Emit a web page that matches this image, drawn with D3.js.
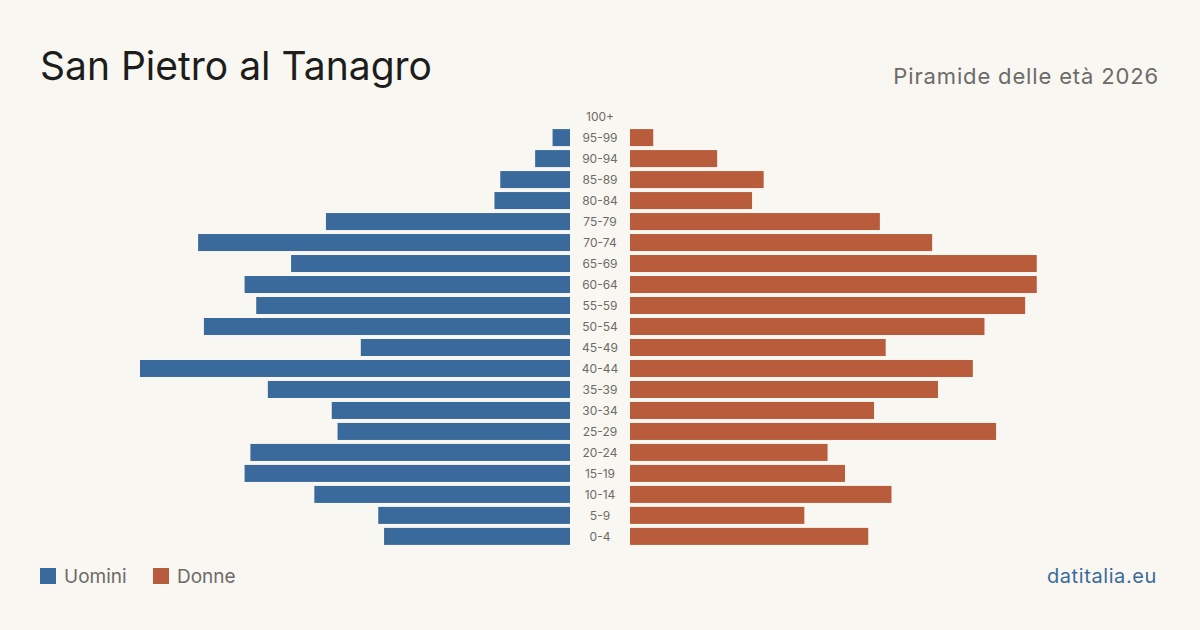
<!DOCTYPE html>
<html>
<head>
<meta charset="utf-8">
<script src="https://cdn.jsdelivr.net/npm/d3@7"></script>
<style>
  html, body { margin: 0; padding: 0; background: #f9f7f2; }
  svg text { font-family: Inter, "Open Sans", sans-serif; }
</style>
</head>
<body>
<div id="chart"></div>
<script>
var ageGroups = ["100+", "95-99", "90-94", "85-89", "80-84", "75-79", "70-74", "65-69", "60-64", "55-59",
  "50-54", "45-49", "40-44", "35-39", "30-34", "25-29", "20-24", "15-19", "10-14", "5-9", "0-4"];
var uomini = [0, 3, 6, 12, 13, 42, 64, 48, 56, 54, 63, 36, 74, 52, 41, 40, 55, 56, 44, 33, 32];
var donne  = [0, 4, 15, 23, 21, 43, 52, 70, 70, 68, 61, 44, 59, 53, 42, 63, 34, 37, 45, 30, 41];

var colUomini = "#3a6a9b", colDonne = "#b95c3c";

var width = 1200, height = 630;
var center = 600, gap = 30;

var svg = d3.select("#chart").append("svg")
    .attr("width", width)
    .attr("height", height);

svg.append("rect")
    .attr("width", width).attr("height", height)
    .attr("fill", "#f9f7f2");

// titles
svg.append("text")
    .attr("x", 40).attr("y", 80)
    .attr("font-size", 39)
    .attr("fill", "#1d1d1b")
    .text("San Pietro al Tanagro");

svg.append("text")
    .attr("x", 1159).attr("y", 84)
    .attr("text-anchor", "end")
    .attr("font-size", 22)
    .attr("letter-spacing", 0.85)
    .attr("fill", "#6d6b68")
    .text("Piramide delle età 2026");

var y = d3.scaleBand()
    .domain(ageGroups)
    .range([106, 547])
    .paddingInner(0.19)
    .paddingOuter(0.1);

var maxVal = d3.max(uomini.concat(donne));
var x = d3.scaleLinear()
    .domain([0, maxVal])
    .range([0, 430]);

var rows = ageGroups.map(function(a, i) { return {age: a, m: uomini[i], f: donne[i]}; });

svg.append("g").selectAll("rect")
    .data(rows)
    .enter().append("rect")
    .attr("x", function(d) { return center - gap - x(d.m); })
    .attr("y", function(d) { return y(d.age); })
    .attr("width", function(d) { return x(d.m); })
    .attr("height", y.bandwidth())
    .attr("fill", colUomini);

svg.append("g").selectAll("rect")
    .data(rows)
    .enter().append("rect")
    .attr("x", center + gap)
    .attr("y", function(d) { return y(d.age); })
    .attr("width", function(d) { return x(d.f); })
    .attr("height", y.bandwidth())
    .attr("fill", colDonne);

svg.append("g").selectAll("text")
    .data(rows)
    .enter().append("text")
    .attr("x", center)
    .attr("y", function(d) { return y(d.age) + y.bandwidth() / 2; })
    .attr("dy", "0.35em")
    .attr("text-anchor", "middle")
    .attr("font-size", 12)
    .attr("fill", "#6d6b68")
    .text(function(d) { return d.age; });

// legend
var legend = [{label: "Uomini", color: colUomini, x: 40}, {label: "Donne", color: colDonne, x: 153}];
var lg = svg.append("g").selectAll("g")
    .data(legend)
    .enter().append("g")
    .attr("transform", function(d) { return "translate(" + d.x + ",568)"; });
lg.append("rect")
    .attr("width", 16).attr("height", 16)
    .attr("fill", function(d) { return d.color; });
lg.append("text")
    .attr("x", 24).attr("y", 8)
    .attr("dy", "0.35em")
    .attr("font-size", 19)
    .attr("fill", "#6d6b68")
    .text(function(d) { return d.label; });

svg.append("text")
    .attr("x", 1157).attr("y", 583)
    .attr("text-anchor", "end")
    .attr("font-size", 20)
    .attr("letter-spacing", 0.6)
    .attr("fill", "#3a6a9b")
    .text("datitalia.eu");
</script>
</body>
</html>
